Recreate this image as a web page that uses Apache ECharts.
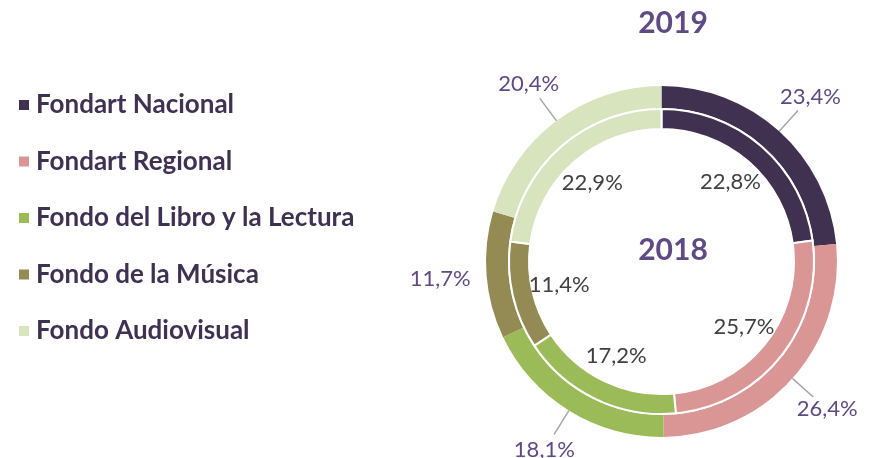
<!DOCTYPE html>
<html>
<head>
<meta charset="utf-8">
<script src="https://cdn.jsdelivr.net/npm/echarts@6/dist/echarts.min.js"></script>
<style>
html,body{margin:0;padding:0;background:#fff;}
#chart{width:871px;height:458px;}
</style>
</head>
<body>
<div id="chart"></div>
<script>
const categories = ['Fondart Nacional', 'Fondart Regional', 'Fondo del Libro y la Lectura', 'Fondo de la Música', 'Fondo Audiovisual'];
const values2019 = [23.4, 26.4, 18.1, 11.7, 20.4];
const values2018 = [22.8, 25.7, 17.2, 11.4, 22.9];
const colors = ['#403151', '#d99694', '#9bbb59', '#948a54', '#d7e4bd'];
const titleOuter = '2019';
const titleInner = '2018';

const fmt = v => v.toFixed(1).replace('.', ',') + '%';
const mk = arr => categories.map((c, i) => ({ name: c, value: arr[i] }));
const FONT = 'Lato';
const CENTER = [661.5, 261.5];
const transparent = 'rgba(0,0,0,0)';

const chart = echarts.init(document.getElementById('chart'), null, { renderer: 'canvas' });
chart.setOption({
  animation: false,
  color: colors,
  legend: {
    orient: 'vertical',
    left: 14,
    top: 85,
    icon: 'rect',
    itemWidth: 10,
    itemHeight: 10,
    itemGap: 26.5,
    data: categories,
    textStyle: {
      fontFamily: FONT,
      fontWeight: 'bold',
      fontSize: 26,
      lineHeight: 30,
      color: '#3f3151',
      padding: [0, 0, 0, 2]
    }
  },
  graphic: [
    { type: 'text', x: 673, y: 23, style: { text: titleOuter, align: 'center', verticalAlign: 'middle', fontFamily: FONT, fontWeight: 'bold', fontSize: 30, fill: '#5f4a84' } },
    { type: 'text', x: 673, y: 250, z: 100, style: { text: titleInner, align: 'center', verticalAlign: 'middle', fontFamily: FONT, fontWeight: 'bold', fontSize: 30, fill: '#5f4a84' } }
  ],
  series: [
    {
      name: '2019',
      type: 'pie',
      center: CENTER,
      radius: [153.5, 175.5],
      startAngle: 90,
      clockwise: true,
      avoidLabelOverlap: false,
      silent: true,
      itemStyle: { borderWidth: 0 },
      label: { show: true, position: 'outside', formatter: ' ', fontSize: 1, color: transparent },
      labelLine: { show: true, length: 28, length2: 0, lineStyle: { color: '#a6a6a6', width: 1.5 } },
      data: mk(values2019)
    },
    {
      name: '2018',
      type: 'pie',
      center: CENTER,
      radius: [132.5, 152.5],
      startAngle: 90,
      clockwise: true,
      silent: true,
      itemStyle: { borderColor: '#ffffff', borderWidth: 2 },
      label: { show: false },
      labelLine: { show: false },
      data: mk(values2018)
    },
    {
      name: '2019 labels',
      type: 'pie',
      center: CENTER,
      radius: [196, 242],
      startAngle: 90,
      silent: true,
      itemStyle: { color: transparent },
      label: { show: true, position: 'inside', formatter: p => fmt(p.value), fontFamily: FONT, fontSize: 22, color: '#5f4a84' },
      labelLine: { show: false },
      data: mk(values2019)
    },
    {
      name: '2018 labels',
      type: 'pie',
      center: CENTER,
      radius: [0, 204],
      startAngle: 90,
      silent: true,
      itemStyle: { color: transparent },
      label: { show: true, position: 'inside', formatter: p => fmt(p.value), fontFamily: FONT, fontSize: 22, color: '#404040' },
      labelLine: { show: false },
      data: mk(values2018)
    }
  ]
});
</script>
</body>
</html>
